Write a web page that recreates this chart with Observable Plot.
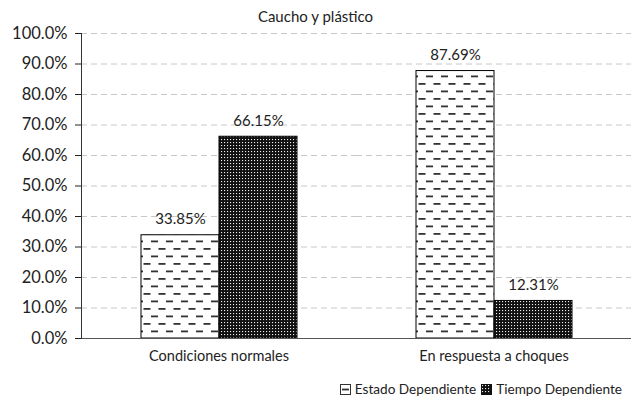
<!DOCTYPE html>
<html>
<head>
<meta charset="utf-8">
<script src="https://cdn.jsdelivr.net/npm/d3@7"></script>
<script src="https://cdn.jsdelivr.net/npm/@observablehq/plot@0.6"></script>
<style>
  html, body { margin: 0; padding: 0; background: #fff; }
  #wrap { position: relative; width: 631px; height: 407px; font-family: Lato, "Open Sans", sans-serif; color: #222; overflow: hidden; }
  #title { position: absolute; top: 7px; left: 0; width: 631px; text-align: center; font-size: 15px; }
  #legend { position: absolute; top: 381px; right: 9px; font-size: 13.6px; display: flex; align-items: center; white-space: nowrap; }
  #legend svg { margin-right: 4px; }
  #legend span.item { display: inline-flex; align-items: center; margin-left: 5px; }
</style>
</head>
<body>
<svg width="0" height="0" style="position:absolute">
  <defs>
    <pattern id="pat-dash" patternUnits="userSpaceOnUse" width="15" height="15">
      <rect x="0" y="0" width="15" height="15" fill="#fff"></rect>
      <rect x="0" y="0.5" width="7" height="1.8" fill="#333"></rect>
      <rect x="7.5" y="8" width="7" height="1.8" fill="#333"></rect>
    </pattern>
    <pattern id="pat-dots" patternUnits="userSpaceOnUse" width="3" height="3">
      <rect x="0" y="0" width="3" height="3" fill="#111"></rect>
      <rect x="1" y="1" width="1.1" height="1.1" fill="#eee"></rect>
    </pattern>
  </defs>
</svg>
<div id="wrap">
  <div id="chart"></div>
  <div id="title">Caucho y plástico</div>
  <div id="legend"></div>
</div>
<script>
const categories = ["Condiciones normales", "En respuesta a choques"];
const series = ["Estado Dependiente", "Tiempo Dependiente"];
const estadoValues = [33.85, 87.69];
const tiempoValues = [66.15, 12.31];
const yTicks = [0, 10, 20, 30, 40, 50, 60, 70, 80, 90, 100];
const patterns = ["url(#pat-dash)", "url(#pat-dots)"];

const data = categories.flatMap((c, i) => [
  {category: c, series: series[0], value: estadoValues[i]},
  {category: c, series: series[1], value: tiempoValues[i]}
]);

const chart = Plot.plot({
  width: 631,
  height: 375,
  marginTop: 33,
  marginBottom: 37,
  marginLeft: 80,
  marginRight: 0,
  style: {fontFamily: "Lato, 'Open Sans', sans-serif", fontSize: "15px", color: "#222", overflow: "visible", background: "transparent"},
  fx: {domain: categories, padding: 0, label: null, axis: null},
  x: {domain: series, axis: null, paddingInner: 0, paddingOuter: 0.744},
  y: {domain: [0, 100], line: true, label: null, axis: null},
  color: {domain: series, range: patterns},
  marks: [
    Plot.gridY(yTicks.slice(1), {stroke: "#c8c8c8", strokeOpacity: 1, strokeDasharray: "6,4"}),
    Plot.barY(data, {fx: "category", x: "series", y: "value", fill: "series", stroke: "#000", strokeWidth: 1}),
    Plot.ruleY([0], {stroke: "#555"}),
    Plot.text(data, {fx: "category", x: "series", y: "value", text: d => d.value.toFixed(2) + "%", dy: -16, fontSize: 15, fill: "#222"}),
    Plot.axisY(yTicks, {tickFormat: d => d.toFixed(1) + "%", tickSize: 6, tickPadding: 8, label: null, fontSize: 16.5}),
    Plot.frame({anchor: "left", facetAnchor: "left", stroke: "#333"}),
    Plot.axisFx({anchor: "bottom", tickSize: 0, tickPadding: 12, label: null, fontSize: 14.5})
  ]
});
document.getElementById("chart").appendChild(chart);

const legend = document.getElementById("legend");
const icons = [
  `<svg width="11" height="11"><rect x="0.5" y="0.5" width="10" height="10" fill="#fff" stroke="#333" stroke-width="1"></rect><rect x="2" y="4.6" width="7" height="1.8" fill="#333"></rect></svg>`,
  `<svg width="11" height="11"><rect x="0.5" y="0.5" width="10" height="10" fill="url(#pat-dots)" stroke="#111" stroke-width="1"></rect></svg>`
];
series.forEach((s, i) => {
  const item = document.createElement("span");
  item.className = "item";
  item.innerHTML = icons[i] + s;
  legend.appendChild(item);
});
</script>
</body>
</html>
